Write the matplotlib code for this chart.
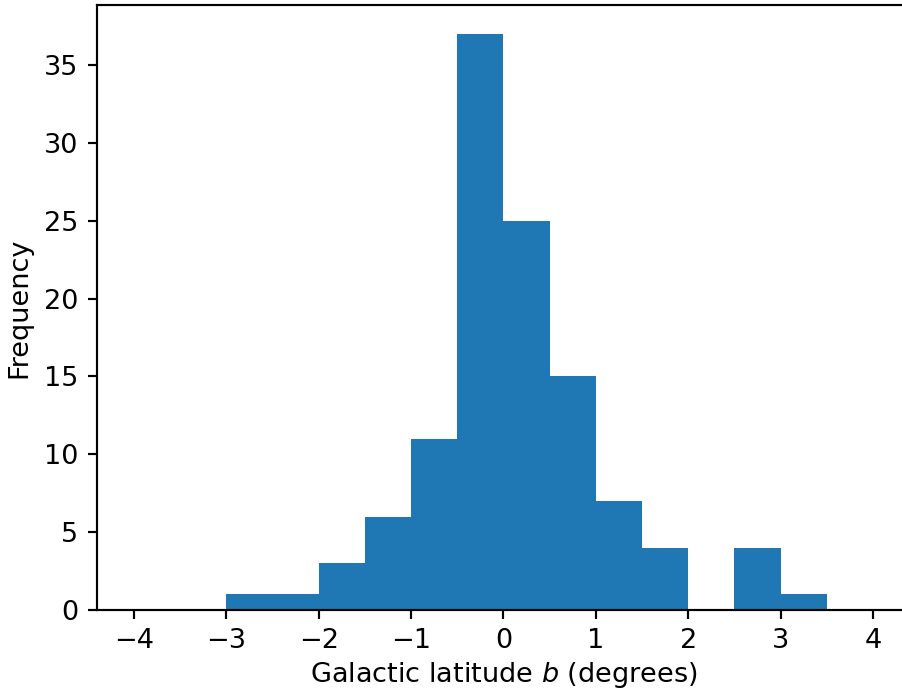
import numpy as np
import matplotlib
matplotlib.use("Agg")
import matplotlib.pyplot as plt

# histogram bin edges (degrees) and counts per bin
bin_edges = np.arange(-4.0, 4.01, 0.5)
counts = [0, 0, 1, 1, 3, 6, 11, 37, 25, 15, 7, 4, 0, 4, 1, 0]

bin_centers = (bin_edges[:-1] + bin_edges[1:]) / 2

# the original was rendered at a higher dpi; scale defaults by ~1.95
s = 1.95
plt.rcParams['font.size'] = 10 * s
plt.rcParams['axes.linewidth'] = 0.8 * s
plt.rcParams['xtick.major.width'] = 0.8 * s
plt.rcParams['ytick.major.width'] = 0.8 * s
plt.rcParams['xtick.major.size'] = 3.5 * s
plt.rcParams['ytick.major.size'] = 3.5 * s
plt.rcParams['xtick.major.pad'] = 3.5 * s - 1
plt.rcParams['ytick.major.pad'] = 3.5 * s
plt.rcParams['axes.labelpad'] = 4.0 * s

fig = plt.figure(figsize=(9.02, 6.91), dpi=100)
# axes extends past the right edge, as in the cropped original
ax = fig.add_axes([97 / 902, 81 / 691, 813 / 902, 605 / 691])
ax.hist(bin_centers, bins=bin_edges, weights=counts, color='#1f77b4')
ax.set_xlabel("Galactic latitude $b$ (degrees)", labelpad=4.0 * s - 3.5)
ax.set_ylabel("Frequency")

fig.savefig("out.png", dpi=100)
